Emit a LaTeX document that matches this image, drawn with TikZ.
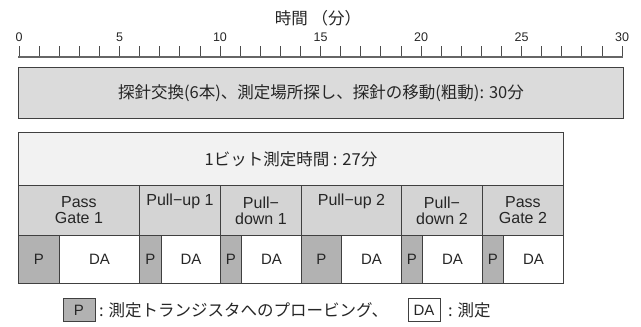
\documentclass[tikz,border=0pt]{standalone}
\usepackage{fontspec}
\setmainfont{Liberation Sans}
\newfontfamily\jp{Noto Sans CJK JP}
\begin{document}
\begin{tikzpicture}[x=1pt,y=-1pt,
  every node/.style={font=\fontsize{16}{17}\selectfont, text=black!85},
  jptext/.style={font=\jp\fontsize{16.5}{18}\selectfont},
  cell/.style={draw=black!75, line width=0.9pt, anchor=north west, inner sep=0pt, align=center},
  namecell/.style={cell, fill=black!17, minimum height=50pt},
  pcell/.style={cell, fill=black!30, minimum height=48pt, font=\fontsize{15}{17}\selectfont},
  dacell/.style={cell, fill=white, minimum height=48pt, font=\fontsize{15}{17}\selectfont},
  ticknum/.style={font=\fontsize{12.5}{14}\selectfont},
  legbox/.style={draw=black!75, line width=0.8pt, minimum width=32pt, minimum height=23pt, inner sep=0pt, font=\fontsize{15}{17}\selectfont}]
\useasboundingbox (0,0) rectangle (641,327);
% axis
\node[jptext] (title) at (318,18) {時間 （分）};
\foreach \m in {0,...,30} {
  \draw[black!70, line width=0.8pt] ({19+20.1*\m},46) -- ({19+20.1*\m},57);
}
\foreach \m in {0,5,...,30} {
  \node[ticknum] (n\m) at ({19+20.1*\m},37) {\m};
}
\coordinate (a0) at (18,57);
\coordinate (a1) at (623,57);
\draw[black!60, line width=1.6pt] (a0) -- (a1);
% box 1
\node[cell, jptext, fill=black!14, minimum width=605pt, minimum height=51pt] (b1) at (18,67) {探針交換(6本)、測定場所探し、探針の移動(粗動): 30分};
% box 2
\node[cell, jptext, fill=black!5, minimum width=545pt, minimum height=53pt] (b2) at (18,132) {1ビット測定時間 : 27分};
% name row
\node[namecell, minimum width=121pt] (c1) at (18,185) {Pass\\[-1pt]Gate 1};
\node[namecell, minimum width=81pt] (c2) at (139,185) {Pull−up 1\\[-1pt]\strut};
\node[namecell, minimum width=81pt] (c3) at (220,185) {Pull−\\[-1pt]down 1};
\node[namecell, minimum width=100pt] (c4) at (301,185) {Pull−up 2\\[-1pt]\strut};
\node[namecell, minimum width=81pt] (c5) at (401,185) {Pull−\\[-1pt]down 2};
\node[namecell, minimum width=81pt] (c6) at (482,185) {Pass\\[-1pt]Gate 2};
% P / DA row
\node[pcell, minimum width=41pt] (p1) at (18,235) {P};
\node[dacell, minimum width=80pt] (d1) at (59,235) {DA};
\node[pcell, minimum width=22pt] (p2) at (139,235) {P};
\node[dacell, minimum width=59pt] (d2) at (161,235) {DA};
\node[pcell, minimum width=21pt] (p3) at (220,235) {P};
\node[dacell, minimum width=60pt] (d3) at (241,235) {DA};
\node[pcell, minimum width=40pt] (p4) at (301,235) {P};
\node[dacell, minimum width=60pt] (d4) at (341,235) {DA};
\node[pcell, minimum width=21pt] (p5) at (401,235) {P};
\node[dacell, minimum width=60pt] (d5) at (422,235) {DA};
\node[pcell, minimum width=21pt] (p6) at (482,235) {P};
\node[dacell, minimum width=60pt] (d6) at (503,235) {DA};
% legend
\node[legbox, fill=black!30] (lp) at (79,310) {P};
\node[jptext, anchor=west, inner sep=0pt] (lpt) at (99,310) {: 測定トランジスタへのプロービング、};
\node[legbox, fill=white] (lda) at (424,310) {DA};
\node[jptext, anchor=west, inner sep=0pt] (ldat) at (448,310) {: 測定};
\end{tikzpicture}
\end{document}
